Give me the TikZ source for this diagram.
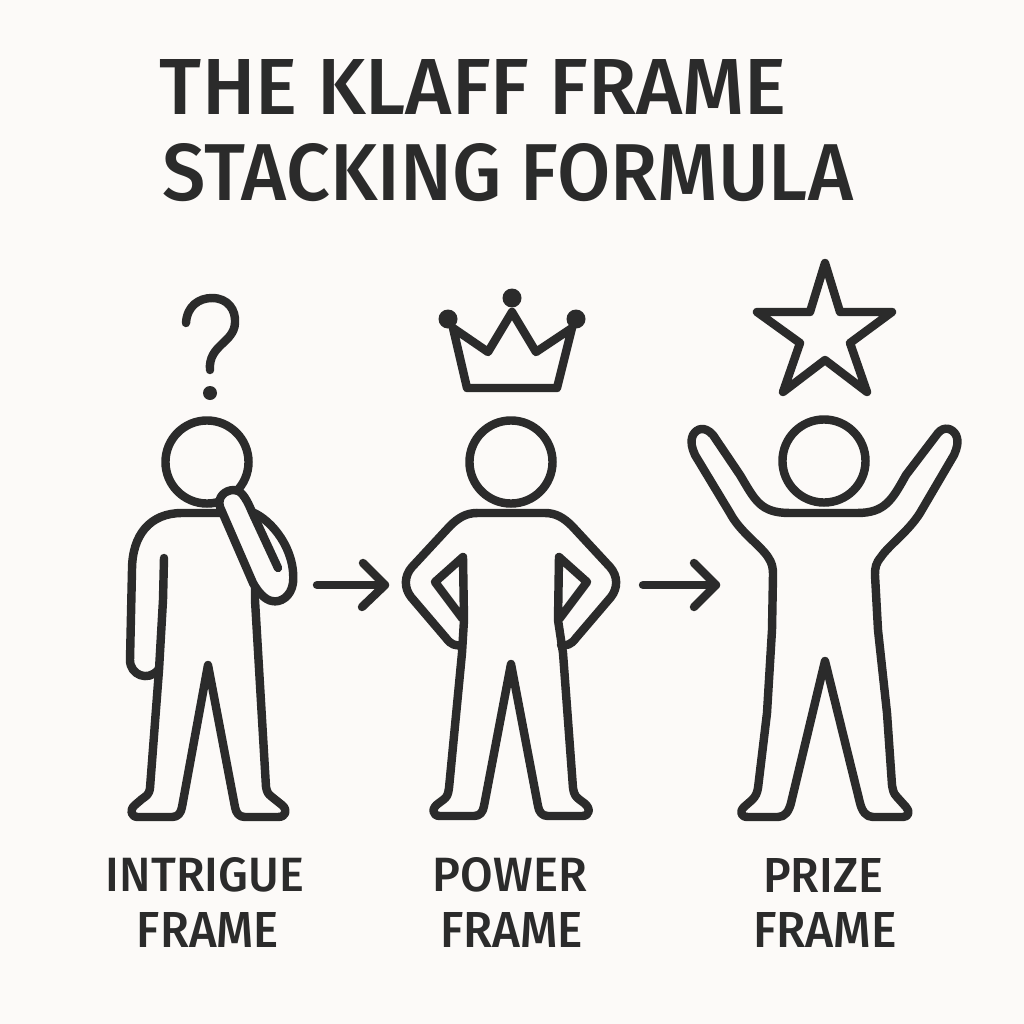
\documentclass[tikz,border=0pt]{standalone}
\usepackage{graphicx}
\usepackage{fontspec}
\setmainfont{Fira Sans Medium}
\newfontfamily\lblfont{Fira Sans Medium}
\definecolor{paper}{HTML}{FCFAF8}
\definecolor{ink}{HTML}{2B2B2B}
\newcommand{\fitbox}[3]{\resizebox{#1\dimexpr0.01cm\relax}{#2\dimexpr0.01cm\relax}{#3}}
\tikzset{
  x=0.01cm,y=-0.01cm,
  ln/.style={draw=ink,line width=2.4pt,line cap=round,line join=round},
  head/.style={circle,draw=ink,line width=2.4pt,minimum size=0.83cm,inner sep=0,fill=paper},
  txt/.style={inner sep=0,text=ink},
}
\begin{document}
\begin{tikzpicture}
\fill[paper,use as bounding box] (0,0) rectangle (1024,1024);
% title
\node[txt] (t1) at (473.5,87) {\fitbox{627}{55}{THE KLAFF FRAME}};
\node[txt] (t2) at (508,172.5) {\fitbox{690}{57}{STACKING FORMULA}};
% figure 1
\draw[ln] (186,323) .. controls (187,306) and (199,298) .. (212,298) .. controls (228,298) and (236,310) .. (235,323) .. controls (234,343) and (208,345) .. (210,370);
\fill[ink] (210,393) circle (7);
\node[head] (h1) at (207,462) {};
\draw[ln] (164,558) -- (163,600) -- (159,670) -- (150,788) .. controls (149,795) and (146,796) .. (142,799) -- (135,805) .. controls (129,810) and (131,817) .. (138,817) -- (172,817) .. controls (178,817) and (181,813) .. (182,807) -- (208,665) -- (235,807) .. controls (236,813) and (239,817) .. (245,817) -- (278,817) .. controls (286,817) and (288,810) .. (282,805) -- (272,797) .. controls (268,794) and (267,792) .. (266,787) -- (255,600) -- (255,587);
\draw[ln] (220,513) -- (182,513) .. controls (150,513) and (132,535) .. (132,570) -- (130,660) .. controls (130,675) and (148,682) .. (158,670);
\draw[ln] (252,512) .. controls (272,520) and (296,550) .. (293,583) .. controls (291,597) and (280,603) .. (272,601) .. controls (265,600) and (258,592) .. (253,583);
\draw[ln,fill=paper] (278,568) -- (252,512) .. controls (245,495) and (240,490) .. (234,490) .. controls (225,490) and (217,497) .. (220,507) -- (253,583);
\node[txt] (l1a) at (205,875) {\fitbox{198}{34}{\lblfont INTRIGUE}};
\node[txt] (l1b) at (208,929.5) {\fitbox{142}{35}{\lblfont FRAME}};
% arrow 1
\coordinate (a1s) at (317,585); \coordinate (a1e) at (385,585);
\coordinate (a1u) at (363,563); \coordinate (a1d) at (362,607);
\draw[ln] (a1s) -- (a1e); \draw[ln] (a1u) -- (a1e) -- (a1d);
% figure 2
\draw[ln] (453,328) -- (488,352) -- (512,312) -- (536,352) -- (572,328) -- (557,388) -- (467,388) -- cycle;
\fill[ink] (448,319) circle (9.5) (512,298) circle (9.5) (576,319) circle (9.5);
\node[head] (h2) at (511,462) {};
\draw[ln] (477,513) -- (545,513) .. controls (556,513) and (564,518) .. (572,526) -- (610,567) .. controls (618,576) and (618,588) .. (611,597) -- (576,638) .. controls (571,645) and (566,646) .. (561,645);
\draw[ln] (477,513) .. controls (466,513) and (458,518) .. (450,526) -- (412,567) .. controls (404,576) and (404,588) .. (411,597) -- (446,638) .. controls (451,645) and (456,646) .. (461,645);
\draw[ln] (560,618) -- (587,582) -- (559,557) -- (558,620) -- (563,653) -- (573,788) .. controls (574,795) and (576,797) .. (580,800) -- (584,803) .. controls (591,808) and (590,816) .. (582,816) -- (548,816) .. controls (542,816) and (539,812) .. (538,806) -- (511,664) -- (484,806) .. controls (483,812) and (480,816) .. (474,816) -- (440,816) .. controls (432,816) and (431,808) .. (439,803) -- (443,800) .. controls (447,797) and (448,795) .. (449,788) -- (462,653) -- (464,620) -- (463,557) -- (435,582) -- (462,618);
\node[txt] (l2a) at (510,875) {\fitbox{154}{34}{\lblfont POWER}};
\node[txt] (l2b) at (511.5,929.5) {\fitbox{143}{35}{\lblfont FRAME}};
% arrow 2
\coordinate (a2s) at (643,585); \coordinate (a2e) at (716,585);
\coordinate (a2u) at (694,563); \coordinate (a2d) at (694,607);
\draw[ln] (a2s) -- (a2e); \draw[ln] (a2u) -- (a2e) -- (a2d);
% figure 3
\draw[ln] (825,263) -- (840,312) -- (892,312) -- (850,343) -- (867,392) -- (825,360) -- (783,392) -- (800,343) -- (757,312) -- (810,312) -- cycle;
\node[head] (h3) at (824,461) {};
\draw[ln] (824,513) -- (790,513) .. controls (760,513) and (755,500) .. (740,475) -- (713,435) .. controls (705,426) and (697,428) .. (693,435) .. controls (690,442) and (692,448) .. (695,455) -- (730,513) .. controls (740,532) and (760,545) .. (768,557) .. controls (772,563) and (773,567) .. (773,575) -- (772,630) -- (767,713) -- (758,788) .. controls (757,793) and (756,796) .. (752,800) -- (744,807) .. controls (739,812) and (741,817) .. (748,817) -- (778,817) .. controls (785,817) and (789,811) .. (791,803) -- (825,661) -- (860,803) .. controls (862,811) and (866,817) .. (873,817) -- (903,817) .. controls (909,817) and (910,811) .. (906,807) -- (897,797) .. controls (893,793) and (893,790) .. (892,785) -- (887,713) -- (878,630) -- (875,575) .. controls (875,567) and (876,563) .. (881,557) .. controls (889,545) and (908,532) .. (920,513) -- (954,455) .. controls (957,448) and (959,442) .. (956,435) .. controls (952,428) and (944,426) .. (938,433) -- (906,475) .. controls (892,500) and (885,513) .. (857,513) -- (824,513);
\node[txt] (l3a) at (823,875) {\fitbox{120}{34}{\lblfont PRIZE}};
\node[txt] (l3b) at (825,929.5) {\fitbox{144}{35}{\lblfont FRAME}};
\end{tikzpicture}
\end{document}
